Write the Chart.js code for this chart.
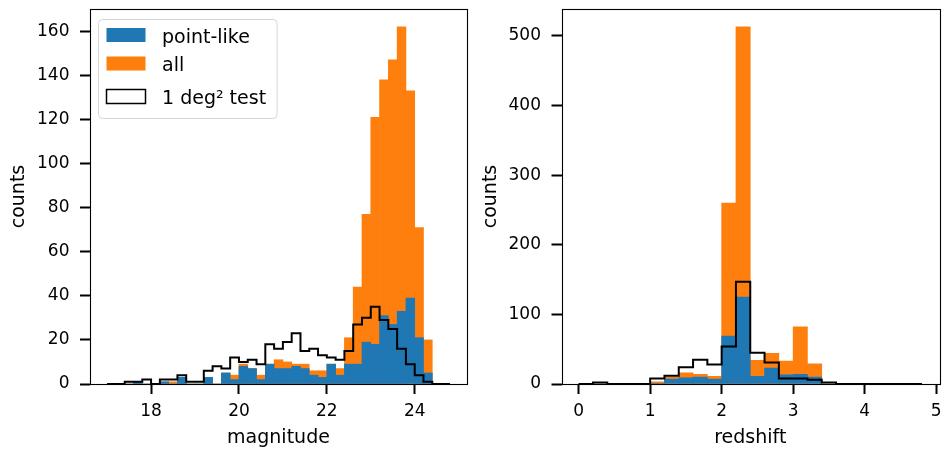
<!DOCTYPE html>
<html>
<head>
<meta charset="utf-8">
<script src="https://cdn.jsdelivr.net/npm/chart.js@4.4.1/dist/chart.umd.min.js"></script>
<style>
  body { margin: 0; background: #fff; }
  #wrap { position: relative; width: 951px; height: 456px; }
  canvas { position: absolute; top: 0; }
  #magChart { left: 0; }
  #zChart { left: 475px; }
</style>
</head>
<body>
<div id="wrap">
  <canvas id="magChart" width="475" height="456"></canvas>
  <canvas id="zChart" width="476" height="456"></canvas>
</div>
<script>
// left panel: magnitude, bins of 0.2 mag starting at 17.0
const magBinStart = 17.0;
const magBinWidth = 0.2;
const magPointLike = [0, 0, 0, 1, 0, 0, 1, 0, 3, 0, 0, 3, 0, 5, 2, 8, 7, 2, 9, 7,
                      7, 8, 7, 4, 3, 9, 4, 9, 9, 19, 18, 31, 27, 33, 39, 21, 5, 0, 0];
const magAll =       [0, 0, 0, 1, 0, 0, 1, 1, 3, 0, 0, 3, 0, 5, 4, 9, 7, 4, 9, 11,
                      10, 9, 9, 6, 6, 9, 7, 21, 44, 77, 121, 138, 147, 162, 133, 71, 20, 0, 0];
const magTest =      [0, 0, 1, 1, 2, 0, 2, 2, 4, 1, 1, 6, 8, 7, 12, 10, 11, 9, 18, 16,
                      19, 23, 15, 16, 13, 12, 11, 15, 27, 30, 35, 29, 25, 16, 9, 4, 1, 0, 0];
const magTicks = [18, 20, 22, 24];
const magCountTicks = [0, 20, 40, 60, 80, 100, 120, 140, 160];

// right panel: redshift, bins of 0.2 starting at 0
const zBinStart = 0.0;
const zBinWidth = 0.2;
const zPointLike = [0, 0, 0, 0, 0, 1, 7, 9, 10, 7, 69, 125, 11, 23, 13, 14, 10, 0, 0, 0, 0, 1, 0, 0];
const zAll =       [0, 0, 0, 0, 0, 3, 10, 16, 14, 11, 260, 513, 34, 44, 33, 82, 29, 0, 0, 0, 0, 1, 0, 0];
const zTest =      [0, 2, 0, 0, 0, 8, 12, 24, 35, 28, 54, 147, 45, 31, 8, 8, 6, 2, 0, 0, 0, 0, 0, 0];
const zTicks = [0, 1, 2, 3, 4, 5];
const zCountTicks = [0, 100, 200, 300, 400, 500];

const legendLabels = ['point-like', 'all', '1 deg\u00b2 test'];

const BLUE = '#1f77b4';
const ORANGE = '#ff7f0e';
const FONT = '"DejaVu Sans", "Liberation Sans", sans-serif';

const barPoints = (start, width, counts) =>
    counts.map((c, i) => ({ x: start + (i + 0.5) * width, y: c }));

// outline of a step histogram: up at the first edge, across each bin, down at the last edge
const stepPoints = (start, width, counts) => {
    const pts = [{ x: start, y: 0 }];
    counts.forEach((c, i) => {
        pts.push({ x: start + i * width, y: c });
        pts.push({ x: start + (i + 1) * width, y: c });
    });
    pts.push({ x: start + counts.length * width, y: 0 });
    return pts;
};

const framePlugin = {
    id: 'frame',
    afterDatasetsDraw(chart) {
        const { ctx, chartArea: a } = chart;
        ctx.save();
        ctx.strokeStyle = '#000';
        ctx.lineWidth = 1.1;
        ctx.strokeRect(Math.round(a.left) + 0.5, Math.round(a.top) + 0.5,
            Math.round(a.right - a.left), Math.round(a.bottom - a.top));
        ctx.restore();
    }
};

const legendPlugin = {
    id: 'boxLegend',
    afterDraw(chart, args, opts) {
        if (!opts.show) return;
        const { ctx, chartArea: a } = chart;
        const x0 = a.left + 8.5, y0 = a.top + 10.5;
        const rowsY = [15.5, 44, 77];
        ctx.save();
        ctx.font = '19px ' + FONT;
        const items = opts.order.map(i => chart.data.datasets[i]);
        const textX = 63.5;
        const w = textX + Math.max(...items.map(d => ctx.measureText(d.label).width)) + 11;
        const h = 99;
        ctx.beginPath();
        ctx.roundRect(x0, y0, w, h, 4);
        ctx.fillStyle = 'rgba(255,255,255,0.8)';
        ctx.fill();
        ctx.strokeStyle = '#d6d6d6';
        ctx.lineWidth = 1;
        ctx.stroke();

        items.forEach((d, k) => {
            const cy = y0 + rowsY[k];
            if (d.type === 'line') {
                ctx.fillStyle = '#fff';
                ctx.fillRect(x0 + 8, cy - 7, 39, 14);
                ctx.strokeStyle = '#000';
                ctx.lineWidth = 1.5;
                ctx.strokeRect(x0 + 8, cy - 7, 39, 14);
            } else {
                ctx.fillStyle = d.backgroundColor;
                ctx.fillRect(x0 + 8, cy - 7, 39, 14);
            }
            ctx.fillStyle = '#000';
            ctx.textBaseline = 'alphabetic';
            ctx.fillText(d.label, x0 + textX, cy + 7.5);
        });
        ctx.restore();
    }
};

function histChart(canvasId, cfg) {
    const nBins = cfg.all.length;
    const xEnd = cfg.start + nBins * cfg.width;
    const xPad = 0.05 * (xEnd - cfg.start);
    const yMax = 1.05 * Math.max(...cfg.all, ...cfg.pointLike, ...cfg.test);

    return new Chart(document.getElementById(canvasId), {
        type: 'bar',
        data: {
            datasets: [
                {
                    type: 'line',
                    label: legendLabels[2],
                    data: stepPoints(cfg.start, cfg.width, cfg.test),
                    borderColor: '#000',
                    borderWidth: 2,
                    pointRadius: 0,
                    tension: 0,
                    fill: false,
                    order: 0
                },
                {
                    label: legendLabels[0],
                    data: barPoints(cfg.start, cfg.width, cfg.pointLike),
                    backgroundColor: BLUE,
                    order: 1
                },
                {
                    label: legendLabels[1],
                    data: barPoints(cfg.start, cfg.width, cfg.all),
                    backgroundColor: ORANGE,
                    order: 2
                }
            ]
        },
        options: {
            responsive: false,
            animation: false,
            events: [],
            layout: { padding: { top: 9, right: cfg.padRight, left: 0, bottom: 0 } },
            datasets: {
                bar: { barPercentage: 1, categoryPercentage: 1, grouped: false, borderWidth: 0 }
            },
            plugins: {
                legend: { display: false },
                tooltip: { enabled: false },
                boxLegend: { show: cfg.legend, order: [1, 2, 0] }
            },
            scales: {
                x: {
                    type: 'linear',
                    offset: false,
                    min: cfg.start - xPad,
                    max: xEnd + xPad,
                    border: { display: false },
                    grid: { offset: false, drawOnChartArea: false, drawTicks: true, tickLength: 10, tickWidth: 2, tickColor: '#000' },
                    ticks: { color: '#000', padding: 7, font: { family: FONT, size: 17 } },
                    title: { display: true, text: cfg.xTitle, color: '#000', padding: { top: 0, bottom: 7 }, font: { family: FONT, size: 19 } },
                    afterBuildTicks: s => { s.ticks = cfg.xTicks.map(v => ({ value: v })); },
                    afterFit: s => { s.height = 72; s.paddingLeft = 0; s.paddingRight = 0; }
                },
                y: {
                    min: 0,
                    max: yMax,
                    border: { display: false },
                    grid: { drawOnChartArea: false, drawTicks: true, tickLength: 10, tickWidth: 2, tickColor: '#000' },
                    ticks: { color: '#000', padding: 10.5, font: { family: FONT, size: 17 } },
                    title: { display: true, text: 'counts', color: '#000', padding: { top: cfg.yTitlePad, bottom: 0 }, font: { family: FONT, size: 19 } },
                    afterBuildTicks: s => { s.ticks = cfg.yTicks.map(v => ({ value: v })); },
                    afterFit: s => { s.width = cfg.yAxisWidth; s.paddingTop = 0; s.paddingBottom = 0; }
                }
            }
        },
        plugins: [framePlugin, legendPlugin]
    });
}

histChart('magChart', {
    start: magBinStart, width: magBinWidth,
    pointLike: magPointLike, all: magAll, test: magTest,
    xTicks: magTicks, yTicks: magCountTicks, xTitle: 'magnitude',
    yAxisWidth: 90, padRight: 8, yTitlePad: 8, legend: true
});

histChart('zChart', {
    start: zBinStart, width: zBinWidth,
    pointLike: zPointLike, all: zAll, test: zTest,
    xTicks: zTicks, yTicks: zCountTicks, xTitle: 'redshift',
    yAxisWidth: 86.5, padRight: 12, yTitlePad: 5, legend: false
});
</script>
</body>
</html>
